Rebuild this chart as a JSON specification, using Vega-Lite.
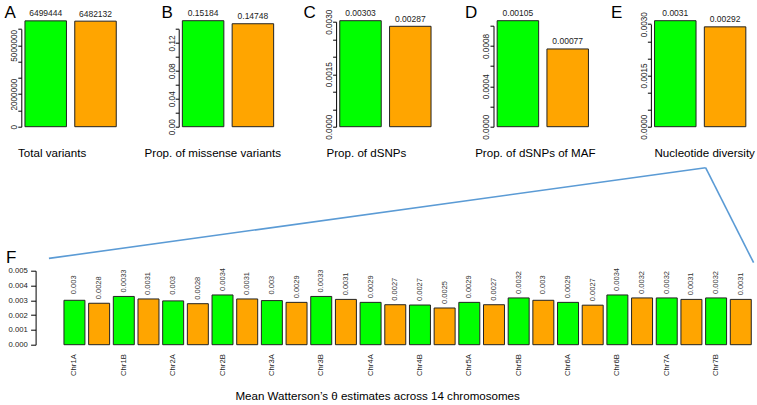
{
  "$schema": "https://vega.github.io/schema/vega-lite/v6.json",
  "background": "white",
  "padding": {"left": 3.3, "top": 2.7, "right": 0, "bottom": 0},
  "config": {
    "font": "Liberation Sans",
    "view": {"stroke": null},
    "axis": {"grid": false, "domainColor": "#000", "tickColor": "#000", "labelColor": "#222", "titleColor": "#000", "titleFontWeight": "normal", "labelFont": "Liberation Sans", "titleFont": "Liberation Sans"}
  },
  "datasets": {
    "top": [
      {"panel": "A", "grp": "g", "value": 6499444},
      {"panel": "A", "grp": "o", "value": 6482132},
      {"panel": "B", "grp": "g", "value": 0.15184},
      {"panel": "B", "grp": "o", "value": 0.14748},
      {"panel": "C", "grp": "g", "value": 0.00303},
      {"panel": "C", "grp": "o", "value": 0.00287},
      {"panel": "D", "grp": "g", "value": 0.00105},
      {"panel": "D", "grp": "o", "value": 0.00077},
      {"panel": "E", "grp": "g", "value": 0.0031},
      {"panel": "E", "grp": "o", "value": 0.00292}
    ],
    "chrom": [
      {"id": "Chr1A-1", "pop": "g", "theta": 0.00300},
      {"id": "Chr1A-2", "pop": "o", "theta": 0.00280},
      {"id": "Chr1B-1", "pop": "g", "theta": 0.00326},
      {"id": "Chr1B-2", "pop": "o", "theta": 0.00309},
      {"id": "Chr2A-1", "pop": "g", "theta": 0.00296},
      {"id": "Chr2A-2", "pop": "o", "theta": 0.00277},
      {"id": "Chr2B-1", "pop": "g", "theta": 0.00336},
      {"id": "Chr2B-2", "pop": "o", "theta": 0.00309},
      {"id": "Chr3A-1", "pop": "g", "theta": 0.00298},
      {"id": "Chr3A-2", "pop": "o", "theta": 0.00286},
      {"id": "Chr3B-1", "pop": "g", "theta": 0.00326},
      {"id": "Chr3B-2", "pop": "o", "theta": 0.00306},
      {"id": "Chr4A-1", "pop": "g", "theta": 0.00286},
      {"id": "Chr4A-2", "pop": "o", "theta": 0.00270},
      {"id": "Chr4B-1", "pop": "g", "theta": 0.00268},
      {"id": "Chr4B-2", "pop": "o", "theta": 0.00248},
      {"id": "Chr5A-1", "pop": "g", "theta": 0.00286},
      {"id": "Chr5A-2", "pop": "o", "theta": 0.00270},
      {"id": "Chr5B-1", "pop": "g", "theta": 0.00316},
      {"id": "Chr5B-2", "pop": "o", "theta": 0.00300},
      {"id": "Chr6A-1", "pop": "g", "theta": 0.00286},
      {"id": "Chr6A-2", "pop": "o", "theta": 0.00267},
      {"id": "Chr6B-1", "pop": "g", "theta": 0.00336},
      {"id": "Chr6B-2", "pop": "o", "theta": 0.00316},
      {"id": "Chr7A-1", "pop": "g", "theta": 0.00316},
      {"id": "Chr7A-2", "pop": "o", "theta": 0.00306},
      {"id": "Chr7B-1", "pop": "g", "theta": 0.00316},
      {"id": "Chr7B-2", "pop": "o", "theta": 0.00306}
    ],
    "conn": [
      {"x1": 0.9294, "y1": 0.01196, "x2": 0.0375, "y2": 0.00583},
      {"x1": 0.9294, "y1": 0.01196, "x2": 0.9946, "y2": 0.00554}
    ]
  },
  "bounds": "flush",
  "spacing": 254,
  "vconcat": [
    {
      "bounds": "flush",
      "spacing": 58.4,
      "hconcat": [
        {
          "width": 98.6, "height": 110,
          "data": {"name": "top"},
          "transform": [{"filter": "datum.panel == 'A'"}],
          "encoding": {
            "x": {"field": "grp", "type": "nominal", "sort": null,
              "scale": {"paddingInner": 0.1667, "paddingOuter": 0.0733, "round": false},
              "axis": {"title": "Total variants", "labels": false, "ticks": false, "domain": false, "titleFontSize": 11.6, "titleX": 30.3, "titleY": 29.7, "titleAlign": "center", "titleBaseline": "alphabetic"}},
            "y": {"field": "value", "type": "quantitative",
              "scale": {"domain": [0, 6000000], "range": [110, 12.3], "nice": false},
              "axis": {"title": "A", "titleAngle": 0, "titleAlign": "left", "titleBaseline": "alphabetic", "titleFontSize": 17, "titleX": -17.4, "titleY": 0.7,
                "values": [0, 1000000, 2000000, 3000000, 4000000, 5000000, 6000000], "format": "d",
                "labelExpr": "indexof(['0','2000000','5000000'], datum.label) >= 0 ? datum.label : ''",
                "labelAngle": -90, "labelAlign": "center", "labelBaseline": "alphabetic", "labelPadding": 1, "tickSize": 3.5, "labelFontSize": 8.2, "labelOverlap": false}}
          },
          "layer": [
            {"mark": {"type": "bar", "stroke": "#222", "strokeWidth": 1},
             "encoding": {"color": {"field": "grp", "type": "nominal", "scale": {"domain": ["g", "o"], "range": ["#00ff00", "#ffa500"]}, "legend": null}}},
            {"mark": {"type": "text", "baseline": "alphabetic", "dy": -4.5, "fontSize": 8.5, "color": "#222"},
             "encoding": {"text": {"field": "value", "type": "quantitative", "format": "d"}}}
          ]
        },
        {
          "width": 98.6, "height": 110,
          "data": {"name": "top"},
          "transform": [{"filter": "datum.panel == 'B'"}],
          "encoding": {
            "x": {"field": "grp", "type": "nominal", "sort": null,
              "scale": {"paddingInner": 0.1667, "paddingOuter": 0.0733, "round": false},
              "axis": {"title": "Prop. of missense variants", "labels": false, "ticks": false, "domain": false, "titleFontSize": 11.6, "titleX": 33.6, "titleY": 29.7, "titleAlign": "center", "titleBaseline": "alphabetic"}},
            "y": {"field": "value", "type": "quantitative",
              "scale": {"domain": [0, 0.14], "range": [110, 12.26], "nice": false},
              "axis": {"title": "B", "titleAngle": 0, "titleAlign": "left", "titleBaseline": "alphabetic", "titleFontSize": 17, "titleX": -17.7, "titleY": 0.7,
                "values": [0, 0.02, 0.04, 0.06, 0.08, 0.1, 0.12, 0.14], "format": ".2f",
                "labelExpr": "indexof(['0.00','0.04','0.08','0.12'], datum.label) >= 0 ? datum.label : ''",
                "labelAngle": -90, "labelAlign": "center", "labelBaseline": "alphabetic", "labelPadding": 1, "tickSize": 3.5, "labelFontSize": 8.2, "labelOverlap": false}}
          },
          "layer": [
            {"mark": {"type": "bar", "stroke": "#222", "strokeWidth": 1},
             "encoding": {"color": {"field": "grp", "type": "nominal", "scale": {"domain": ["g", "o"], "range": ["#00ff00", "#ffa500"]}, "legend": null}}},
            {"mark": {"type": "text", "baseline": "alphabetic", "dy": -4.5, "fontSize": 8.5, "color": "#222"},
             "encoding": {"text": {"field": "value", "type": "quantitative", "format": ".5~f"}}}
          ]
        },
        {
          "width": 98.6, "height": 110,
          "data": {"name": "top"},
          "transform": [{"filter": "datum.panel == 'C'"}],
          "encoding": {
            "x": {"field": "grp", "type": "nominal", "sort": null,
              "scale": {"paddingInner": 0.1667, "paddingOuter": 0.0733, "round": false},
              "axis": {"title": "Prop. of dSNPs", "labels": false, "ticks": false, "domain": false, "titleFontSize": 11.6, "titleX": 29.8, "titleY": 29.7, "titleAlign": "center", "titleBaseline": "alphabetic"}},
            "y": {"field": "value", "type": "quantitative",
              "scale": {"domain": [0, 0.003], "range": [110, 5.05], "nice": false},
              "axis": {"title": "C", "titleAngle": 0, "titleAlign": "left", "titleBaseline": "alphabetic", "titleFontSize": 17, "titleX": -33, "titleY": 0.7,
                "values": [0, 0.0005, 0.001, 0.0015, 0.002, 0.0025, 0.003], "format": ".4f",
                "labelExpr": "indexof(['0.0000','0.0015','0.0030'], datum.label) >= 0 ? datum.label : ''",
                "labelAngle": -90, "labelAlign": "center", "labelBaseline": "alphabetic", "labelPadding": 1, "tickSize": 3.5, "labelFontSize": 8.2, "labelOverlap": false}}
          },
          "layer": [
            {"mark": {"type": "bar", "stroke": "#222", "strokeWidth": 1},
             "encoding": {"color": {"field": "grp", "type": "nominal", "scale": {"domain": ["g", "o"], "range": ["#00ff00", "#ffa500"]}, "legend": null}}},
            {"mark": {"type": "text", "baseline": "alphabetic", "dy": -4.5, "fontSize": 8.5, "color": "#222"},
             "encoding": {"text": {"field": "value", "type": "quantitative", "format": ".5~f"}}}
          ]
        },
        {
          "width": 98.6, "height": 110,
          "data": {"name": "top"},
          "transform": [{"filter": "datum.panel == 'D'"}],
          "encoding": {
            "x": {"field": "grp", "type": "nominal", "sort": null,
              "scale": {"paddingInner": 0.1667, "paddingOuter": 0.0733, "round": false},
              "axis": {"title": "Prop. of dSNPs of MAF", "labels": false, "ticks": false, "domain": false, "titleFontSize": 11.6, "titleX": 41.3, "titleY": 29.7, "titleAlign": "center", "titleBaseline": "alphabetic"}},
            "y": {"field": "value", "type": "quantitative",
              "scale": {"domain": [0, 0.001], "range": [110, 9.05], "nice": false},
              "axis": {"title": "D", "titleAngle": 0, "titleAlign": "left", "titleBaseline": "alphabetic", "titleFontSize": 17, "titleX": -29, "titleY": 0.7,
                "values": [0, 0.0002, 0.0004, 0.0006, 0.0008, 0.001], "format": ".4f",
                "labelExpr": "indexof(['0.0000','0.0004','0.0008'], datum.label) >= 0 ? datum.label : ''",
                "labelAngle": -90, "labelAlign": "center", "labelBaseline": "alphabetic", "labelPadding": 1, "tickSize": 3.5, "labelFontSize": 8.2, "labelOverlap": false}}
          },
          "layer": [
            {"mark": {"type": "bar", "stroke": "#222", "strokeWidth": 1},
             "encoding": {"color": {"field": "grp", "type": "nominal", "scale": {"domain": ["g", "o"], "range": ["#00ff00", "#ffa500"]}, "legend": null}}},
            {"mark": {"type": "text", "baseline": "alphabetic", "dy": -4.5, "fontSize": 8.5, "color": "#222"},
             "encoding": {"text": {"field": "value", "type": "quantitative", "format": ".5~f"}}}
          ]
        },
        {
          "width": 98.6, "height": 110,
          "data": {"name": "top"},
          "transform": [{"filter": "datum.panel == 'E'"}],
          "encoding": {
            "x": {"field": "grp", "type": "nominal", "sort": null,
              "scale": {"paddingInner": 0.1667, "paddingOuter": 0.0733, "round": false},
              "axis": {"title": "Nucleotide diversity", "labels": false, "ticks": false, "domain": false, "titleFontSize": 11.6, "titleX": 53.3, "titleY": 29.7, "titleAlign": "center", "titleBaseline": "alphabetic"}},
            "y": {"field": "value", "type": "quantitative",
              "scale": {"domain": [0, 0.003], "range": [110, 7.42], "nice": false},
              "axis": {"title": "E", "titleAngle": 0, "titleAlign": "left", "titleBaseline": "alphabetic", "titleFontSize": 17, "titleX": -40.4, "titleY": 0.7,
                "values": [0, 0.0005, 0.001, 0.0015, 0.002, 0.0025, 0.003], "format": ".4f",
                "labelExpr": "indexof(['0.0000','0.0015','0.0030'], datum.label) >= 0 ? datum.label : ''",
                "labelAngle": -90, "labelAlign": "center", "labelBaseline": "alphabetic", "labelPadding": 1, "tickSize": 3.5, "labelFontSize": 8.2, "labelOverlap": false}}
          },
          "layer": [
            {"mark": {"type": "bar", "stroke": "#222", "strokeWidth": 1},
             "encoding": {"color": {"field": "grp", "type": "nominal", "scale": {"domain": ["g", "o"], "range": ["#00ff00", "#ffa500"]}, "legend": null}}},
            {"mark": {"type": "text", "baseline": "alphabetic", "dy": -4.5, "fontSize": 8.5, "color": "#222"},
             "encoding": {"text": {"field": "value", "type": "quantitative", "format": ".5~f"}}}
          ]
        }
      ]
    },
    {
      "width": 736.3, "height": 74,
      "resolve": {"scale": {"x": "independent", "y": "independent"}, "axis": {"x": "independent", "y": "independent"}},
      "layer": [
        {
          "data": {"name": "chrom"},
          "encoding": {
            "x": {"field": "id", "type": "nominal", "sort": null,
              "scale": {"paddingInner": 0.15, "paddingOuter": 0.992, "align": 0.871, "round": false},
              "axis": {"title": "Mean Watterson’s θ estimates across 14 chromosomes", "titleFontSize": 11.6, "titleX": 355.8, "titleY": 55, "titleAlign": "center", "titleBaseline": "alphabetic",
                "domain": false, "ticks": false, "labelAngle": -90, "labelAlign": "right", "labelBaseline": "middle", "labelPadding": 9, "labelFontSize": 7.7, "labelOverlap": false,
                "labelExpr": "slice(datum.value, -2) == '-1' ? slice(datum.value, 0, -2) : ''"}},
            "y": {"field": "theta", "type": "quantitative",
              "scale": {"domain": [0, 0.005], "nice": false},
              "axis": {"title": "F", "titleAngle": 0, "titleAlign": "left", "titleBaseline": "alphabetic", "titleFontSize": 17, "titleX": -30, "titleY": -8.3,
                "values": [0, 0.001, 0.002, 0.003, 0.004, 0.005], "format": ".3f", "offset": -14.3, "tickSize": 5, "labelPadding": 3.3, "labelFontSize": 7.7, "labelOverlap": false}}
          },
          "layer": [
            {"mark": {"type": "bar", "stroke": "#222", "strokeWidth": 1},
             "encoding": {"color": {"field": "pop", "type": "nominal", "scale": {"domain": ["g", "o"], "range": ["#00ff00", "#ffa500"]}, "legend": null}}},
            {"mark": {"type": "text", "angle": 270, "align": "center", "baseline": "middle", "dx": 15.5, "fontSize": 7.5, "color": "#333"},
             "encoding": {"text": {"field": "theta", "type": "quantitative", "format": ".2~r"}}}
          ]
        },
        {
          "data": {"name": "conn"},
          "mark": {"type": "rule", "color": "#5b9bd5", "strokeWidth": 1.6},
          "encoding": {
            "x": {"field": "x1", "type": "quantitative", "scale": {"domain": [0, 1], "nice": false, "zero": false}, "axis": null},
            "x2": {"field": "x2"},
            "y": {"field": "y1", "type": "quantitative", "scale": {"domain": [0, 0.005], "nice": false}, "axis": null},
            "y2": {"field": "y2"}
          }
        }
      ]
    }
  ]
}
